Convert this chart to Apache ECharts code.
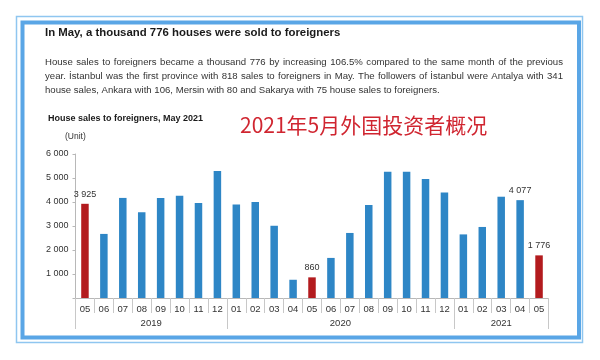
<!DOCTYPE html>
<html>
<head>
<meta charset="utf-8">
<script src="https://cdn.jsdelivr.net/npm/echarts@6/dist/echarts.min.js"></script>
<style>
html,body{margin:0;padding:0;background:#fff;}
#chart{width:600px;height:360px;}
</style>
</head>
<body>
<div id="chart"></div>
<script>
// ---- data ----
const months = ['05','06','07','08','09','10','11','12','01','02','03','04','05','06','07','08','09','10','11','12','01','02','03','04','05'];
const sales = [3925,2670,4170,3570,4170,4260,3960,5290,3900,4000,3010,760,860,1670,2710,3875,5260,5260,4960,4400,2650,2960,4220,4077,1776];
const years = ['2019','2020','2021'];
const yearSpans = [8,12,5];
const redIdx = [0,12,24];
const labeledIdx = [0,12,23,24];
const yTicks = [0,1000,2000,3000,4000,5000,6000];
const headline = 'In May, a thousand 776 houses were sold to foreigners';
const paragraph = [
  'House sales to foreigners became a thousand 776 by increasing 106.5% compared to the same month of the previous',
  'year. İstanbul was the first province with 818 sales to foreigners in May. The followers of İstanbul were Antalya with 341',
  'house sales, Ankara with 106, Mersin with 80 and Sakarya with 75 house sales to foreigners.'
];
const chartTitle = 'House sales to foreigners, May 2021';
const unitText = '(Unit)';
const cnTitle = '2021年5月外国投资者概况';

// ---- helpers ----
const fmt = v => String(v).replace(/\B(?=(\d{3})+(?!\d))/g, ' ');
const yearBounds = [0];
yearSpans.forEach(s => yearBounds.push(yearBounds[yearBounds.length-1] + s));
const yearCenters = yearSpans.map((s,i) => yearBounds[i] + s/2);

const BLUE = '#2e86c6', RED = '#b31b1e';
const FONT = '"Liberation Sans", Arial, sans-serif';
const PFONT = '9.6px ' + FONT;

const chart = echarts.init(document.getElementById('chart'), null, {renderer:'canvas'});

const barData = sales.map((v,i) => ({
  value: v,
  itemStyle: {color: redIdx.includes(i) ? RED : BLUE},
  label: {show: labeledIdx.includes(i)}
}));

const graphics = [
  {type:'rect', shape:{x:16.5,y:16.5,width:566,height:326}, style:{fill:null, stroke:'#8fc6f0', lineWidth:1.5}, silent:true},
  {type:'rect', shape:{x:22.5,y:22.5,width:556.5,height:315}, style:{fill:null, stroke:'#5aa6e6', lineWidth:4}, silent:true},
  {type:'text', left:45, top:27, style:{text:headline, font:'bold 11.4px '+FONT, fill:'#1a1a1a'}},
  {type:'text', left:240, top:115, style:{text:cnTitle, font:'21px "Noto Sans CJK SC", sans-serif', fill:'#d02530'}},
  {type:'text', left:48, top:114, style:{text:chartTitle, font:'bold 9px '+FONT, fill:'#1a1a1a'}},
  {type:'text', left:65, top:132, style:{text:unitText, font:'8.5px '+FONT, fill:'#333'}}
];

// justified paragraph (last line left-aligned)
const mctx = document.createElement('canvas').getContext('2d');
mctx.font = PFONT;
const PX0 = 45, PX1 = 563;
paragraph.forEach((line,i) => {
  const y = 57 + i*14;
  if (i === paragraph.length - 1) {
    graphics.push({type:'text', x:PX0, y:y, style:{text:line, font:PFONT, fill:'#333'}});
    return;
  }
  const words = line.split(' ');
  const widths = words.map(w => mctx.measureText(w).width);
  const total = widths.reduce((a,b) => a+b, 0);
  const gap = (PX1 - PX0 - total) / (words.length - 1);
  let x = PX0;
  words.forEach((w,k) => {
    graphics.push({type:'text', x:x, y:y, style:{text:w, font:PFONT, fill:'#333'}});
    x += widths[k] + gap;
  });
});

chart.setOption({
  animation:false,
  backgroundColor:'#fff',
  textStyle:{fontFamily:FONT},
  graphic: graphics,
  grid:{left:75.5, right:51.5, top:154, bottom:62, containLabel:false},
  xAxis:[
    {
      type:'category', data:months, position:'bottom',
      axisLine:{show:true, lineStyle:{color:'#b8b8b8', width:1}},
      axisTick:{show:true, interval:0, length:15, lineStyle:{color:'#c8c8c8'}},
      axisLabel:{interval:0, fontSize:9.5, color:'#333', margin:6, fontFamily:FONT}
    },
    {
      type:'value', position:'bottom', min:0, max:yearBounds[yearBounds.length-1],
      axisLine:{show:false},
      splitLine:{show:false},
      axisTick:{show:true, customValues:yearBounds, length:31, lineStyle:{color:'#c8c8c8'}},
      axisLabel:{customValues:yearCenters, fontSize:9.5, color:'#333', margin:20, fontFamily:FONT,
        formatter: v => { const k = yearCenters.indexOf(v); return k >= 0 ? years[k] : ''; }}
    }
  ],
  yAxis:{
    type:'value', min:yTicks[0], max:yTicks[yTicks.length-1], interval:1000,
    axisLine:{show:true, lineStyle:{color:'#b8b8b8'}},
    axisTick:{show:true, length:3, lineStyle:{color:'#b8b8b8'}},
    splitLine:{show:false},
    axisLabel:{fontSize:9, color:'#333', margin:7, fontFamily:FONT,
      formatter: v => v === 0 ? '' : fmt(v)}
  },
  series:[{
    type:'bar', xAxisIndex:0, yAxisIndex:0, data:barData, barWidth:7.5,
    label:{position:'top', distance:5, fontSize:9, color:'#333', fontFamily:FONT,
      formatter: p => fmt(p.value)}
  }]
});
</script>
</body>
</html>
